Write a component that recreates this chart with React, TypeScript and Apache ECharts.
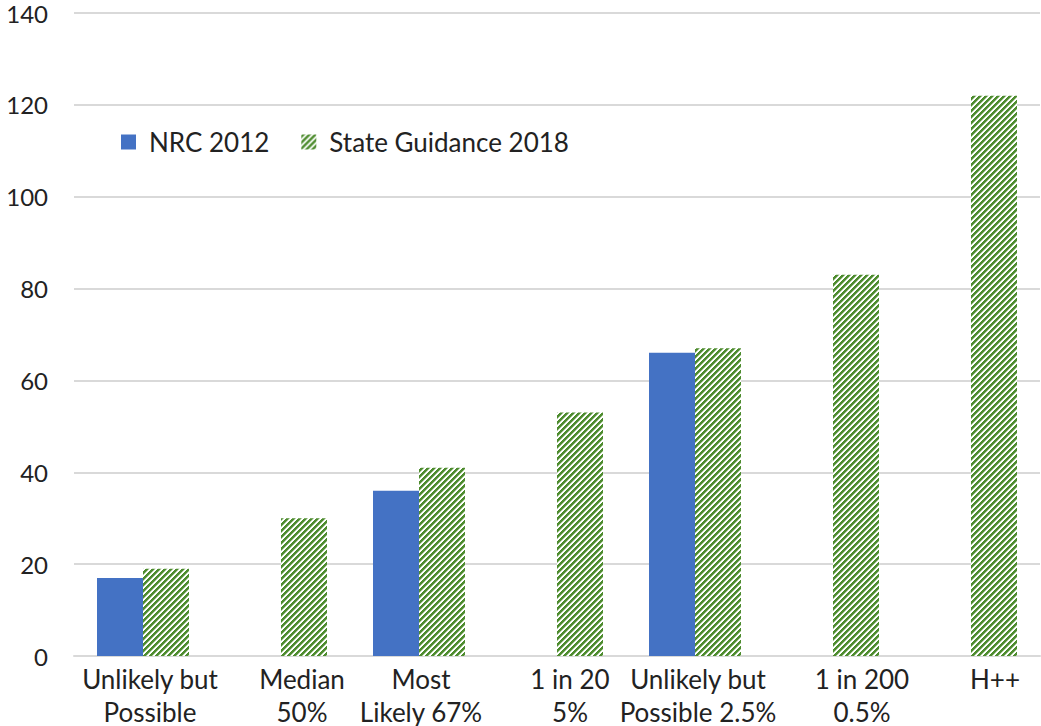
import React, { useEffect, useRef } from "react";
import * as echarts from "echarts";

const categories = [
  ["Unlikely but", "Possible"],
  ["Median", "50%"],
  ["Most", "Likely 67%"],
  ["1 in 20", "5%"],
  ["Unlikely but", "Possible 2.5%"],
  ["1 in 200", "0.5%"],
  ["H++"],
];
const nrc2012 = [17, null, 36, null, 66, null, null];
const stateGuidance2018 = [19, 30, 41, 53, 67, 83, 122];
const yTicks = { min: 0, max: 140, interval: 20 };
const labelShift = [7, 21, 2, 13, 3, 29, 24];

const FONT = "Lato";

function makeHatch(): HTMLCanvasElement {
  const c = document.createElement("canvas");
  c.width = 6;
  c.height = 6;
  const ctx = c.getContext("2d")!;
  ctx.fillStyle = "#ffffff";
  ctx.fillRect(0, 0, 6, 6);
  for (let x = 0; x < 6; x++) {
    for (let y = 0; y < 6; y++) {
      const k = (x + y) % 6;
      if (k < 3) {
        ctx.fillStyle = "#4E8C2F";
        ctx.fillRect(x, y, 1, 1);
      } else if (k === 3) {
        ctx.fillStyle = "#a9c99a";
        ctx.fillRect(x, y, 1, 1);
      }
    }
  }
  return c;
}

export default function App() {
  const ref = useRef<HTMLDivElement>(null);
  useEffect(() => {
    if (!ref.current) return;
    const chart = echarts.init(ref.current, undefined, { renderer: "svg" });
    const hatch = { image: makeHatch(), repeat: "repeat" } as any;
    const rich: Record<string, any> = {};
    labelShift.forEach((s, i) => {
      rich["l" + i] = {
        fontFamily: FONT,
        fontSize: 26,
        color: "#222",
        lineHeight: 33,
        padding: [0, 0, 0, s * 2],
      };
    });
    chart.setOption({
      animation: false,
      backgroundColor: "#ffffff",
      grid: { left: 74, right: 1, top: 13, bottom: 70, containLabel: false },
      legend: {
        left: 116,
        top: 124,
        itemWidth: 15,
        itemHeight: 15,
        itemGap: 32,
        icon: "rect",
        textStyle: {
          fontFamily: FONT,
          fontSize: 26,
          color: "#222",
          padding: [0, 0, 0, 8],
        },
        data: ["NRC 2012", "State Guidance 2018"],
      },
      xAxis: {
        type: "category",
        data: categories.map((c) => c.join("\n")),
        axisLine: { show: true, lineStyle: { color: "#d9d9d9", width: 2 } },
        axisTick: { show: false },
        axisLabel: {
          interval: 0,
          margin: 6,
          formatter: (_v: string, idx: number) =>
            categories[idx].map((line) => `{l${idx}|${line}}`).join("\n"),
          rich,
        },
      },
      yAxis: {
        type: "value",
        min: yTicks.min,
        max: yTicks.max,
        interval: yTicks.interval,
        axisLine: { show: false },
        axisTick: { show: false },
        splitLine: { lineStyle: { color: "#d9d9d9", width: 2 } },
        axisLabel: {
          fontFamily: FONT,
          fontSize: 24,
          color: "#222",
          margin: 26,
        },
      },
      series: [
        {
          name: "NRC 2012",
          type: "bar",
          data: nrc2012,
          barWidth: 46,
          barGap: "0%",
          itemStyle: { color: "#4472C4" },
        },
        {
          name: "State Guidance 2018",
          type: "bar",
          data: stateGuidance2018,
          barWidth: 46,
          barGap: "0%",
          itemStyle: { color: hatch },
        },
      ],
    });
    return () => chart.dispose();
  }, []);
  return (
    <div
      ref={ref}
      style={{ position: "fixed", left: 0, top: 0, width: 1041, height: 726 }}
    />
  );
}
